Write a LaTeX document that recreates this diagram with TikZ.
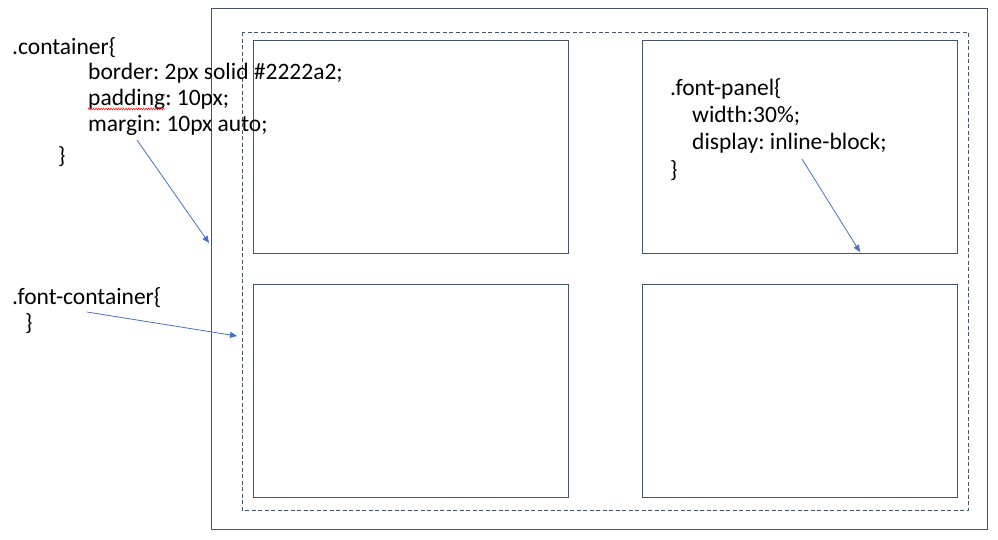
\documentclass[tikz,border=0pt]{standalone}
\usepackage{fontspec}
\setmainfont{Carlito}
\usetikzlibrary{arrows.meta,decorations.pathmorphing}
\definecolor{boxc}{HTML}{44546A}
\definecolor{arrc}{HTML}{4472C4}
\tikzset{
  panel/.style={draw=boxc, line width=0.9pt, inner sep=0pt},
  code/.style={anchor=base west, inner sep=0pt, font=\fontsize{23.5}{28}\selectfont\frenchspacing},
  pointer/.style={draw=arrc, line width=0.8pt, -{Triangle[length=7pt,width=6pt]}}
}
\begin{document}
\begin{tikzpicture}[x=1pt,y=-1pt]
\useasboundingbox (0,0) rectangle (998,539);
% boxes
\draw[panel] (211,8) rectangle (987,529);
\draw[boxc, line width=0.8pt, dash pattern=on 4pt off 2.5pt] (242,32) rectangle (968,510);
\draw[panel] (253,40) rectangle (568,253);
\draw[panel] (642,40) rectangle (957,253);
\draw[panel] (253,284) rectangle (568,497);
\draw[panel] (642,284) rectangle (957,497);
% texts
\node[code] (c1) at (12,54) {.container\{};
\node[code] (c2) at (88,79) {border: 2px solid \#2222a2;};
\node[code] (c3) at (88,105) {padding: 10px;};
\node[code] (c4) at (88,131) {margin: 10px auto;};
\node[code] (c5) at (58,163) {\}};
\draw[red, line width=0.5pt, decorate, decoration={zigzag, amplitude=1pt, segment length=2.5pt}] (88,109) -- (165,109);
\node[code] (f1) at (12,304) {.font-container\{};
\node[code] (f2) at (25,330) {\}};
\node[code] (p1) at (670,95) {.font-panel\{};
\node[code] (p2) at (692,122) {width:30\%;};
\node[code] (p3) at (692,149) {display: inline-block;};
\node[code] (p4) at (670,177) {\}};
% arrows
\coordinate (a1s) at (137,140);
\coordinate (a1e) at (209,243);
\coordinate (a2s) at (87,312);
\coordinate (a2e) at (237,336);
\coordinate (a3s) at (802,159);
\coordinate (a3e) at (860,252);
\draw[pointer] (a1s) -- (a1e);
\draw[pointer] (a2s) -- (a2e);
\draw[pointer] (a3s) -- (a3e);
\end{tikzpicture}
\end{document}
